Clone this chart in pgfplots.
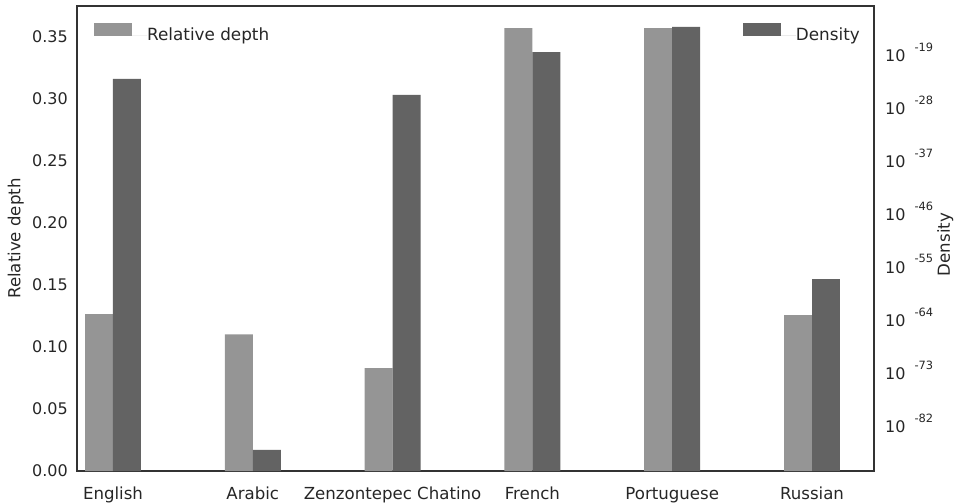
\documentclass[border=0pt]{standalone}
\usepackage{pgfplots}
\pgfplotsset{compat=1.18}
\usepackage{fontspec}
\setmainfont{DejaVu Sans}
\definecolor{lightbar}{RGB}{149,149,149}
\definecolor{darkbar}{RGB}{99,99,99}
\definecolor{txt}{RGB}{38,38,38}
\definecolor{spine}{RGB}{51,51,51}
\newcommand{\sci}[1]{10\hspace{9pt}\raisebox{10.2pt}{\fontsize{11.4}{12}\selectfont -#1}}
\begin{document}
\fontsize{16}{19}\selectfont
\begin{tikzpicture}
\pgfplotsset{
  common/.style={
    scale only axis, width=797pt, height=465pt,
    xmin=-0.2575, xmax=5.4435,
    ybar, bar width=0.2,
    tick style={draw=none},
    axis line style={spine, line width=1.6pt},
    tick label style={text=txt, font=\fontsize{16}{19}\selectfont},
    label style={text=txt, font=\fontsize{16.6}{19}\selectfont},
    legend style={draw=none, fill=none, inner sep=0pt, nodes={inner sep=0pt, text=txt, font=\fontsize{16.8}{19}\selectfont}},
    legend image code/.code={\fill[##1] (0pt,-0.5pt) rectangle (38pt,12.5pt); \path (0pt,0pt) -- (53pt,0pt);},
  }
}
\begin{axis}[common,
  ymin=0, ymax=0.3744,
  xtick={0,1,2,3,4,5},
  xticklabels={English,Arabic,Zenzontepec Chatino,French,Portuguese,Russian},
  xtick pos=bottom, ytick pos=left,
  xticklabel style={inner ysep=0pt, text height=12pt, text depth=4pt, yshift=-12pt, font=\fontsize{16.6}{19}\selectfont},
  ytick={0,0.05,0.10,0.15,0.20,0.25,0.30,0.35},
  yticklabel style={/pgf/number format/.cd, fixed, fixed zerofill, precision=2, assume math mode=true, /tikz/.cd, inner xsep=0pt, xshift=-9pt},
  scaled y ticks=false,
  ylabel={Relative depth},
  ylabel style={at={(rel axis cs:0,0.5)}, anchor=south, yshift=53pt, inner sep=0pt},
  legend style={at={(0,1)}, anchor=north west, xshift=17pt, yshift=-17pt},
]
\addplot[fill=lightbar, draw=none, bar shift=-0.1] coordinates {
  (0,0.1263) (1,0.1100) (2,0.0829) (3,0.3565) (4,0.3565) (5,0.1255)};
\addlegendentry{Relative depth}
\end{axis}
\begin{axis}[common,
  ymode=log, log origin=infty,
  ymin=7.08e-91, ymax=6.46e-12,
  axis x line=none, axis y line*=right,
  ytick={1e-82,1e-73,1e-64,1e-55,1e-46,1e-37,1e-28,1e-19},
  yticklabels={\sci{82},\sci{73},\sci{64},\sci{55},\sci{46},\sci{37},\sci{28},\sci{19}},
  yticklabel style={inner xsep=0pt, xshift=11pt},
  ylabel={Density},
  ylabel style={at={(rel axis cs:1,0.5)}, anchor=north, yshift=-63pt, xshift=-6pt, inner sep=0pt},
  legend style={at={(1,1)}, anchor=north east, xshift=-14pt, yshift=-17pt},
]
\addplot[fill=darkbar, draw=none, bar shift=0.1] coordinates {
  (0,2.63e-24) (1,2.63e-87) (2,5.01e-27) (3,1e-19) (4,1.78e-15) (5,2.82e-58)};
\addlegendentry{Density}
\end{axis}
\path (-77pt,-30pt) rectangle (881pt,471pt);
\end{tikzpicture}
\end{document}
